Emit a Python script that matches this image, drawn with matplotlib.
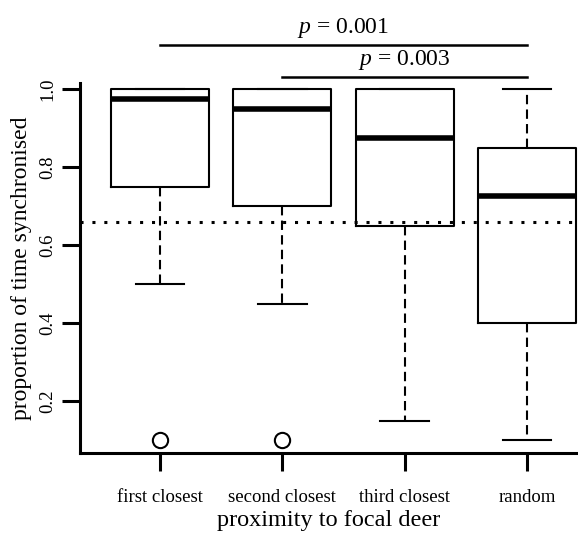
import numpy as np
import matplotlib.pyplot as plt

# values
groups = ["first closest", "second closest", "third closest", "random"]
q1 = [0.75, 0.70, 0.65, 0.40]
medians = [0.975, 0.95, 0.875, 0.725]
q3 = [1.0, 1.0, 1.0, 0.85]
whis_low = [0.50, 0.45, 0.15, 0.10]
whis_high = [1.0, 1.0, 1.0, 1.0]
outliers = [[0.10], [0.10], [], []]
chance_level = 0.66
p_labels = ["$p$ = 0.001", "$p$ = 0.003"]
p_pairs = [(1, 4), (2, 4)]

plt.rcParams['font.family'] = ['Liberation Serif', 'DejaVu Serif']
plt.rcParams['mathtext.fontset'] = 'custom'
plt.rcParams['mathtext.it'] = 'Liberation Serif:italic'
plt.rcParams['mathtext.rm'] = 'Liberation Serif'

fig = plt.figure(figsize=(5.78, 5.35), dpi=100)
ax = fig.add_axes([80 / 578, 1 - 453 / 535, 498 / 578, 370 / 535])

stats = []
for i in range(len(groups)):
    stats.append(dict(med=medians[i], q1=q1[i], q3=q3[i],
                      whislo=whis_low[i], whishi=whis_high[i], fliers=outliers[i]))

pos = np.arange(1, len(groups) + 1)
ax.bxp(stats, positions=pos, widths=0.8, capwidths=0.4, showfliers=True,
       boxprops=dict(color="black", linewidth=1.5),
       medianprops=dict(color="black", linewidth=4, solid_capstyle="butt"),
       whiskerprops=dict(color="black", linewidth=1.5, linestyle=(0, (4.5, 2.5))),
       capprops=dict(color="black", linewidth=1.5),
       flierprops=dict(marker="o", markersize=11, markerfacecolor="white",
                       markeredgecolor="black", markeredgewidth=1.5))

# chance level (dotted)
ax.axhline(chance_level, color="black", linewidth=2.2, linestyle=(0, (1, 2.9)),
           zorder=1)

ax.set_xlim(0.346, 4.417)
ax.set_ylim(0.0667, 1.0154)
ax.set_yticks([0.2, 0.4, 0.6, 0.8, 1.0])
ax.set_yticklabels(["0.2", "0.4", "0.6", "0.8", "1.0"], rotation=90, va="center")
ax.set_xticks(pos)
ax.set_xticklabels(groups)
ax.tick_params(axis="both", direction="out", length=13, width=2.2, labelsize=13.5)
ax.tick_params(axis="x", pad=13)
ax.tick_params(axis="y", pad=4)

for s in ["top", "right"]:
    ax.spines[s].set_visible(False)
for s in ["left", "bottom"]:
    ax.spines[s].set_linewidth(2.2)

ax.set_xlabel("proximity to focal deer", fontsize=17.5, labelpad=3)
ax.set_ylabel("proportion of time synchronised", fontsize=17, labelpad=5)

# significance bars above the plot
bar_y = [1.113, 1.031]
for (a, b), lab, yy in zip(p_pairs, p_labels, bar_y):
    ax.plot([a, b], [yy, yy], color="black", linewidth=1.8, clip_on=False)
    ax.text((a + b) / 2, yy + 0.012, lab, ha="center", va="bottom", fontsize=17)

fig.savefig("out.png", dpi=100)
